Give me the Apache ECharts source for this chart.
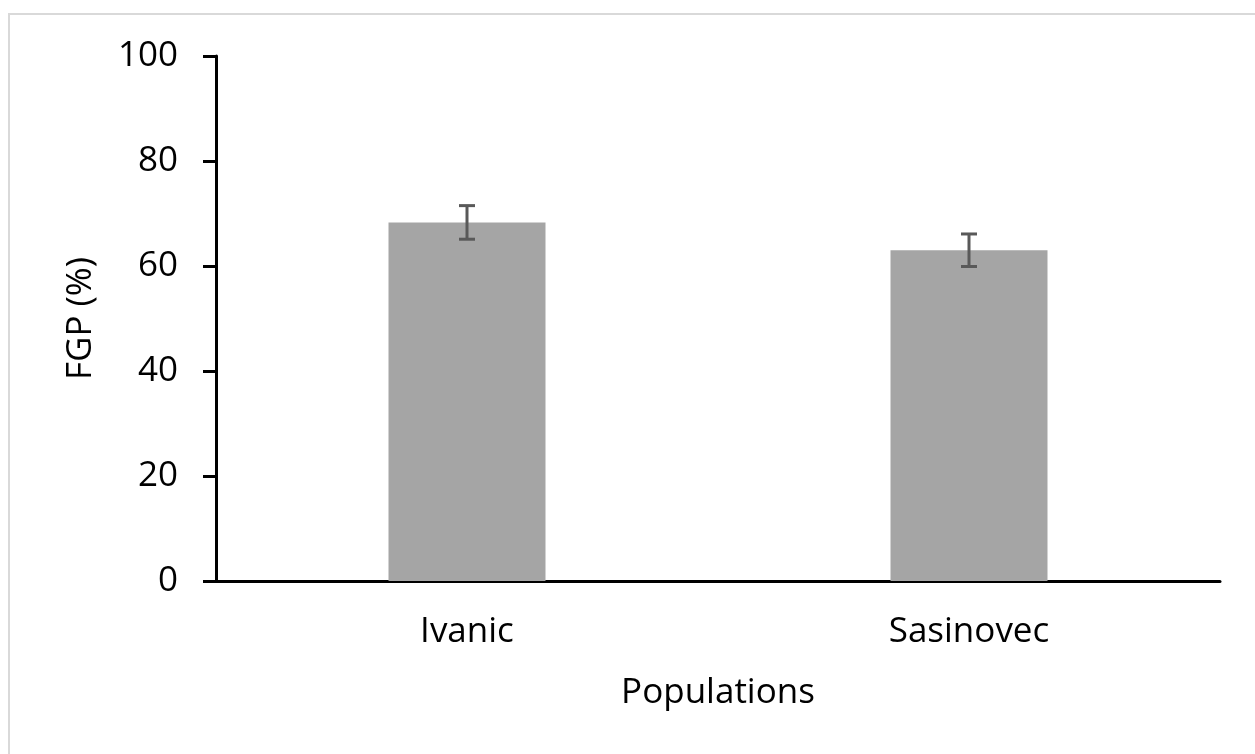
<!DOCTYPE html>
<html>
<head>
<meta charset="utf-8">
<script src="https://cdn.jsdelivr.net/npm/echarts@6/dist/echarts.min.js"></script>
<style>
  html, body { margin: 0; padding: 0; background: #fff; }
  #chart { width: 1255px; height: 754px; }
</style>
</head>
<body>
<div id="chart"></div>
<script>
// Final germination percentage per population
const categories = ['Ivanic', 'Sasinovec'];
const fgpMean = [68.3, 63.0];
const fgpError = [3.2, 3.1];
const yTicks = [0, 20, 40, 60, 80, 100];

const FONT = '"Open Sans", "Liberation Sans", sans-serif';
const FONT_SIZE = 35;

const errorData = categories.map((c, i) => [i, fgpMean[i] - fgpError[i], fgpMean[i] + fgpError[i]]);

const chart = echarts.init(document.getElementById('chart'), null, { renderer: 'canvas' });
chart.setOption({
  backgroundColor: '#ffffff',
  animation: false,
  graphic: [{
    type: 'rect',
    shape: { x: 9, y: 14, width: 1260, height: 760 },
    style: { fill: 'none', stroke: '#d9d9d9', lineWidth: 2 },
    silent: true
  }],
  grid: { left: 216, right: 35, top: 56, bottom: 173 },
  xAxis: {
    type: 'category',
    data: categories,
    name: 'Populations',
    nameLocation: 'middle',
    nameGap: 95,
    nameTextStyle: { fontFamily: FONT, fontSize: FONT_SIZE, color: '#000' },
    axisLine: { lineStyle: { color: '#000', width: 3 } },
    axisTick: { show: false },
    axisLabel: { fontFamily: FONT, fontSize: FONT_SIZE, color: '#000', margin: 34 }
  },
  yAxis: {
    type: 'value',
    min: yTicks[0],
    max: yTicks[yTicks.length - 1],
    interval: 20,
    name: 'FGP (%)',
    nameLocation: 'middle',
    nameGap: 117,
    nameTextStyle: { fontFamily: FONT, fontSize: FONT_SIZE, color: '#000' },
    axisLine: { show: true, lineStyle: { color: '#000', width: 3 } },
    axisTick: { show: true, length: 13, lineStyle: { color: '#000', width: 3 } },
    splitLine: { show: false },
    axisLabel: { fontFamily: FONT, fontSize: FONT_SIZE, color: '#000', margin: 38 }
  },
  series: [{
    type: 'bar',
    data: fgpMean,
    barWidth: 157,
    itemStyle: { color: '#a5a5a5' },
    z: 2
  }, {
    type: 'custom',
    data: errorData,
    z: 3,
    renderItem: function (params, api) {
      const x = api.coord([api.value(0), api.value(1)])[0];
      const yLo = api.coord([api.value(0), api.value(1)])[1];
      const yHi = api.coord([api.value(0), api.value(2)])[1];
      const half = 8;
      const style = { stroke: '#595959', lineWidth: 3, fill: 'none' };
      return {
        type: 'group',
        children: [
          { type: 'line', shape: { x1: x, y1: yLo, x2: x, y2: yHi }, style: style },
          { type: 'line', shape: { x1: x - half, y1: yLo, x2: x + half, y2: yLo }, style: style },
          { type: 'line', shape: { x1: x - half, y1: yHi, x2: x + half, y2: yHi }, style: style }
        ]
      };
    }
  }]
});
</script>
</body>
</html>
